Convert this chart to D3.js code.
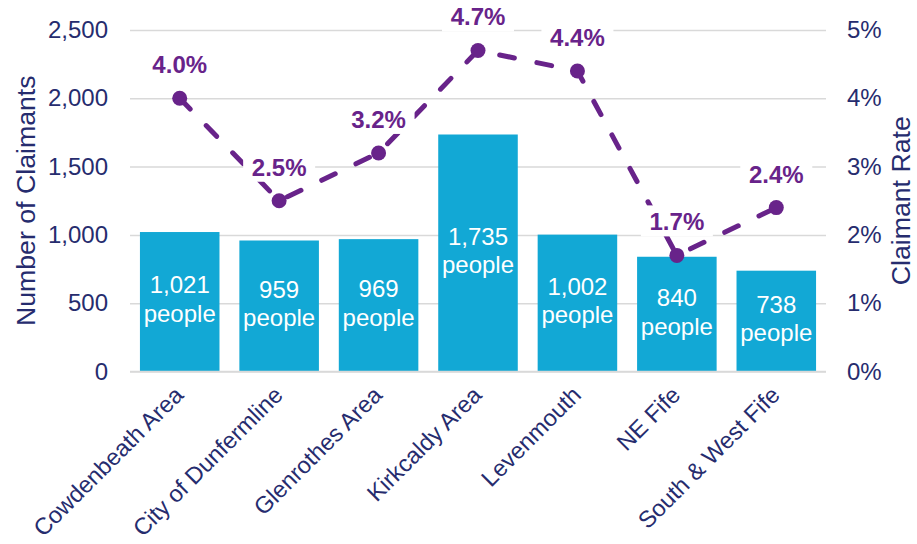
<!DOCTYPE html>
<html>
<head>
<meta charset="utf-8">
<script src="https://cdn.jsdelivr.net/npm/d3@7"></script>
<style>
  body { margin: 0; background: #ffffff; }
  text { font-family: Arial, "Liberation Sans", sans-serif; }
</style>
</head>
<body>
<div id="chart"></div>
<script>
// data
//=================================
var areas = ["Cowdenbeath Area", "City of Dunfermline", "Glenrothes Area", "Kirkcaldy Area",
  "Levenmouth", "NE Fife", "South & West Fife"];
var claimants = [1021, 959, 969, 1735, 1002, 840, 738];
var claimantRate = [0.040, 0.025, 0.032, 0.047, 0.044, 0.017, 0.024];
var leftTicks = [0, 500, 1000, 1500, 2000, 2500];
var rightTicks = [0, 0.01, 0.02, 0.03, 0.04, 0.05];

// chart setup
//=================================
var svgWidth = 917;
var svgHeight = 544;

var margin = { top: 30, right: 91, bottom: 172.5, left: 130 };
var width = svgWidth - margin.left - margin.right;
var height = svgHeight - margin.top - margin.bottom;

var axisColor = "#262c6e";
var barColor = "#12a8d5";
var lineColor = "#68238a";
var gridColor = "#d9d9d9";

var svg = d3.select("#chart")
  .append("svg")
  .attr("width", svgWidth)
  .attr("height", svgHeight);

var chartGroup = svg.append("g")
  .attr("transform", `translate(${margin.left}, ${margin.top})`);

// scales
var x = d3.scaleBand()
  .domain(areas)
  .range([0, width])
  .paddingInner(0.2)
  .paddingOuter(0.1);

var yLeft = d3.scaleLinear()
  .domain([0, 2500])
  .range([height, 0]);

var yRight = d3.scaleLinear()
  .domain([0, 0.05])
  .range([height, 0]);

// gridlines
chartGroup.append("g")
  .attr("class", "grid")
  .call(d3.axisLeft(yLeft).tickValues(leftTicks).tickSize(-width).tickFormat(""))
  .call(g => g.select(".domain").remove())
  .selectAll("line")
  .attr("stroke", gridColor)
  .attr("stroke-width", 1.5);

// left axis
var leftAxis = chartGroup.append("g")
  .call(d3.axisLeft(yLeft).tickValues(leftTicks).tickFormat(d3.format(",")).tickSize(0).tickPadding(22));
leftAxis.select(".domain").remove();
leftAxis.selectAll("text")
  .attr("fill", axisColor)
  .style("font-size", "24px");

// right axis
var rightAxis = chartGroup.append("g")
  .attr("transform", `translate(${width}, 0)`)
  .call(d3.axisRight(yRight).tickValues(rightTicks).tickFormat(d3.format(".0%")).tickSize(0).tickPadding(21));
rightAxis.select(".domain").remove();
rightAxis.selectAll("text")
  .attr("fill", axisColor)
  .style("font-size", "24px");

// bars
chartGroup.selectAll(".bar")
  .data(claimants)
  .enter()
  .append("rect")
  .attr("class", "bar")
  .attr("x", (d, i) => x(areas[i]))
  .attr("y", d => yLeft(d))
  .attr("width", x.bandwidth())
  .attr("height", d => height - yLeft(d))
  .attr("fill", barColor);

// bottom axis line
chartGroup.append("line")
  .attr("x1", 0)
  .attr("x2", width)
  .attr("y1", height)
  .attr("y2", height)
  .attr("stroke", gridColor)
  .attr("stroke-width", 1.5);

// bar labels
var barLabels = chartGroup.selectAll(".barLabel")
  .data(claimants)
  .enter()
  .append("text")
  .attr("class", "barLabel")
  .attr("text-anchor", "middle")
  .attr("fill", "#ffffff")
  .style("font-size", "24px")
  .attr("x", (d, i) => x(areas[i]) + x.bandwidth() / 2)
  .attr("y", d => (yLeft(d) + height) / 2 - 6);

barLabels.append("tspan")
  .attr("x", (d, i) => x(areas[i]) + x.bandwidth() / 2)
  .attr("dy", "-0.1em")
  .text(d => d3.format(",")(d));

barLabels.append("tspan")
  .attr("x", (d, i) => x(areas[i]) + x.bandwidth() / 2)
  .attr("dy", "1.2em")
  .text("people");

// category labels
chartGroup.selectAll(".catLabel")
  .data(areas)
  .enter()
  .append("text")
  .attr("class", "catLabel")
  .attr("text-anchor", "end")
  .attr("fill", axisColor)
  .style("font-size", "23.5px")
  .attr("transform", d => `translate(${x(d) + x.bandwidth() / 2 + 5}, ${height + 25}) rotate(-45)`)
  .text(d => d);

// rate line
var line = d3.line()
  .x((d, i) => x(areas[i]) + x.bandwidth() / 2)
  .y(d => yRight(d));

chartGroup.append("path")
  .datum(claimantRate)
  .attr("d", line)
  .attr("fill", "none")
  .attr("stroke", lineColor)
  .attr("stroke-width", 5)
  .attr("stroke-linecap", "round")
  .attr("stroke-dasharray", "15,23");

chartGroup.selectAll(".ratePoint")
  .data(claimantRate)
  .enter()
  .append("circle")
  .attr("class", "ratePoint")
  .attr("cx", (d, i) => x(areas[i]) + x.bandwidth() / 2)
  .attr("cy", d => yRight(d))
  .attr("r", 7.5)
  .attr("fill", lineColor);

// rate labels with white boxes
var rateLabels = chartGroup.selectAll(".rateLabel")
  .data(claimantRate)
  .enter()
  .append("g")
  .attr("class", "rateLabel")
  .attr("transform", (d, i) => `translate(${x(areas[i]) + x.bandwidth() / 2}, ${yRight(d) - 25})`);

rateLabels.append("rect")
  .attr("x", -36)
  .attr("y", -25)
  .attr("width", 72)
  .attr("height", 31)
  .attr("fill", "#ffffff");

rateLabels.append("text")
  .attr("text-anchor", "middle")
  .attr("fill", lineColor)
  .style("font-size", "24px")
  .style("font-weight", "bold")
  .text(d => d3.format(".1%")(d));

// axis titles
svg.append("text")
  .attr("transform", `translate(35, ${margin.top + height / 2}) rotate(-90)`)
  .attr("text-anchor", "middle")
  .attr("fill", axisColor)
  .style("font-size", "26.7px")
  .text("Number of Claimants");

svg.append("text")
  .attr("transform", `translate(910, ${margin.top + height / 2}) rotate(-90)`)
  .attr("text-anchor", "middle")
  .attr("fill", axisColor)
  .style("font-size", "26.7px")
  .text("Claimant Rate");
</script>
</body>
</html>
